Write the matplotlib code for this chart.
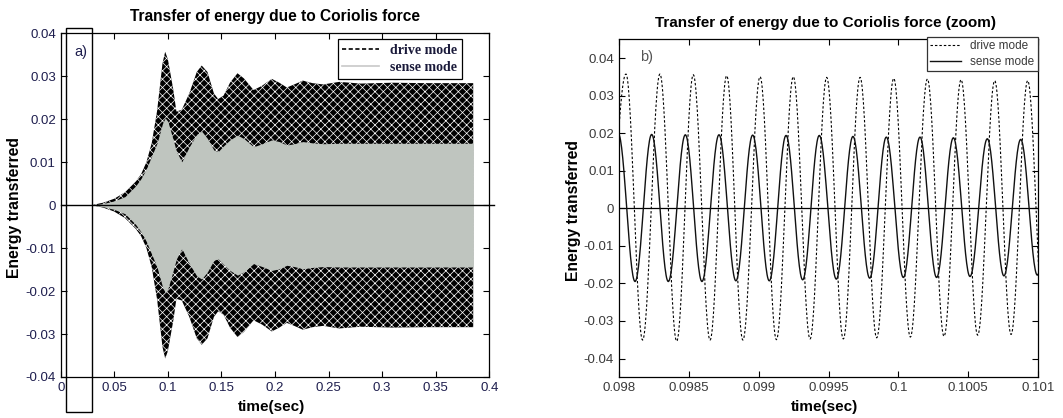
import numpy as np
import matplotlib
matplotlib.use('Agg')
import matplotlib.pyplot as plt
from matplotlib.patches import Rectangle

plt.rcParams['font.family'] = ['Liberation Sans', 'DejaVu Sans']
plt.rcParams['hatch.linewidth'] = 0.5

# --- panel a): envelopes ---
env_t = [0.029, 0.04, 0.05, 0.06, 0.07, 0.075, 0.08, 0.085, 0.09, 0.095, 0.0975, 0.1,
         0.105, 0.108, 0.113, 0.12, 0.127, 0.1316, 0.137, 0.143, 0.147, 0.152, 0.158,
         0.165, 0.171, 0.18, 0.188, 0.197, 0.204, 0.211, 0.218, 0.226, 0.235, 0.245,
         0.26, 0.28, 0.31, 0.34, 0.385]
drive_env = [0.0, 0.0006, 0.0015, 0.003, 0.0055, 0.0072, 0.0100, 0.0145, 0.022, 0.033,
             0.0357, 0.034, 0.027, 0.0218, 0.0222, 0.026, 0.031, 0.0325, 0.031, 0.026,
             0.0247, 0.0255, 0.0285, 0.0307, 0.0295, 0.0268, 0.0278, 0.0294, 0.0285,
             0.0274, 0.0281, 0.029, 0.0284, 0.0281, 0.0287, 0.0283, 0.0285, 0.0284, 0.0284]
sense_env = [0.0, 0.0004, 0.001, 0.002, 0.0045, 0.0062, 0.0085, 0.0115, 0.0145, 0.019,
             0.0203, 0.0195, 0.0152, 0.0125, 0.0101, 0.0136, 0.0165, 0.0172, 0.0155, 0.0128,
             0.0125, 0.0138, 0.0152, 0.0163, 0.0155, 0.0136, 0.0143, 0.0152, 0.0148,
             0.014, 0.0143, 0.0148, 0.0145, 0.0143, 0.0144, 0.0144, 0.0144, 0.0144, 0.0144]

# --- panel b): extrema ---
drive_tk = [0.097881, 0.098050, 0.098169, 0.098293, 0.098413, 0.098532, 0.098652, 0.098771,
            0.098887, 0.099010, 0.099127, 0.099248, 0.099368, 0.099487, 0.099606, 0.099726,
            0.099845, 0.099967, 0.100086, 0.100208, 0.100327, 0.100449, 0.100568, 0.100690,
            0.100807, 0.100926, 0.101045, 0.101165]
drive_yk = [-0.0351, 0.03576, -0.0351, 0.03576, -0.0354, 0.03558, -0.0351, 0.03531,
            -0.0351, 0.03505, -0.0350, 0.03505, -0.0348, 0.03487, -0.0348, 0.03487,
            -0.0345, 0.0346, -0.0343, 0.03443, -0.0341, 0.03425, -0.0338, 0.03399,
            -0.0336, 0.03399, -0.0336, 0.0339]
sense_tk = [0.097995, 0.098115, 0.098234, 0.098353, 0.098475, 0.098594, 0.098716, 0.098837,
            0.098957, 0.099076, 0.099196, 0.099315, 0.099434, 0.099556, 0.099675, 0.099795,
            0.099914, 0.100036, 0.100155, 0.100274, 0.100394, 0.100513, 0.100637, 0.100756,
            0.100876, 0.100995, 0.101116]
sense_yk = [0.01985, -0.0195, 0.01967, -0.0195, 0.01958, -0.0195, 0.01958, -0.01932,
            0.01949, -0.01932, 0.0194, -0.01905, 0.0194, -0.01887, 0.01914, -0.01861,
            0.01896, -0.01843, 0.01896, -0.01843, 0.01878, -0.01817, 0.01852, -0.018,
            0.01834, -0.0178, 0.0183]

xticks_a = [0, 0.05, 0.1, 0.15, 0.2, 0.25, 0.3, 0.35, 0.4]
xlabels_a = ['0', '0.05', '0.1', '0.15', '0.2', '0.25', '0.3', '0.35', '0.4']
xticks_b = [0.098, 0.0985, 0.099, 0.0995, 0.1, 0.1005, 0.101]
xlabels_b = ['0.098', '0.0985', '0.099', '0.0995', '0.1', '0.1005', '0.101']
yticks = [-0.04, -0.03, -0.02, -0.01, 0, 0.01, 0.02, 0.03, 0.04]
ylabels = ['-0.04', '-0.03', '-0.02', '-0.01', '0', '0.01', '0.02', '0.03', '0.04']


def half_waves(tk, yk, n=30):
    # join successive extrema with half cosine arcs
    ts, ys = [], []
    for i in range(len(tk) - 1):
        s = np.linspace(0, 1, n, endpoint=False)
        ts.append(tk[i] + s * (tk[i + 1] - tk[i]))
        ys.append(yk[i] + (yk[i + 1] - yk[i]) * (1 - np.cos(np.pi * s)) / 2)
    return np.concatenate(ts), np.concatenate(ys)


def style_axes(ax, color):
    ax.tick_params(direction='in', top=True, right=True, length=4, width=0.8,
                   labelsize=9.5, labelcolor=color)
    for s in ax.spines.values():
        s.set_linewidth(0.9)


fig = plt.figure(figsize=(10.63, 4.18), dpi=100)

# ---------------- panel a ----------------
ax1 = fig.add_axes([0.0571, 0.0981, 0.4032, 0.8222])
t = np.array(env_t)
d = np.array(drive_env)
s = np.array(sense_env)
ax1.fill_between(t, -d, d, facecolor='black', edgecolor='white', hatch='xxxx', linewidth=0)
ax1.fill_between(t, -s, s, color='#bfc5bf', linewidth=0)
ax1.axhline(0, xmin=0, xmax=1.01, color='black', lw=1.0, clip_on=False)
ax1.plot([], [], color='black', ls=(0, (2.5, 1.5)), lw=1.2, label='drive mode')
ax1.plot([], [], color='#c8c8c8', lw=1.2, label='sense mode')
ax1.set_xlim(0, 0.4)
ax1.set_ylim(-0.04, 0.04)
ax1.set_xticks(xticks_a, xlabels_a)
ax1.set_yticks(yticks, ylabels)
style_axes(ax1, '#1e1e4e')
leg1 = ax1.legend(loc='upper right', bbox_to_anchor=(0.9356, 0.9825), borderaxespad=0,
                  fancybox=False, framealpha=1, edgecolor='black', handlelength=2.6,
                  prop={'family': 'Liberation Serif', 'weight': 'bold', 'size': 10},
                  labelcolor='#1a1a3a', borderpad=0.35, labelspacing=0.25)
leg1.get_frame().set_linewidth(0.9)
ax1.text(0.031, 0.946, 'a)', transform=ax1.transAxes, fontsize=10.5, color='#1e1e4e',
         va='center', ha='left')
fig.add_artist(Rectangle((0.0621, 0.0144), 0.0245, 0.9187, transform=fig.transFigure,
                         fill=False, edgecolor='black', lw=1.0))
fig.text(0.2587, 0.9617, 'Transfer of energy due to Coriolis force', ha='center',
         va='center', fontsize=11.2, fontweight='bold')
fig.text(0.2556, 0.026, 'time(sec)', ha='center', va='center', fontsize=11,
         fontweight='bold')
fig.text(0.0132, 0.5036, 'Energy transferred', ha='center', va='center', fontsize=11.3,
         fontweight='bold', rotation=90)

# ---------------- panel b ----------------
ax2 = fig.add_axes([0.5823, 0.0974, 0.3942, 0.8086])
dt, dy = half_waves(drive_tk, drive_yk)
st, sy = half_waves(sense_tk, sense_yk)
ax2.axhline(0, color='black', lw=0.9)
ax2.plot(dt, dy, color='black', ls=(0, (2.2, 1.8)), lw=0.8, label='drive mode')
ax2.plot(st, sy, color='#111111', lw=1.0, label='sense mode')
ax2.set_xlim(0.098, 0.101)
ax2.set_ylim(-0.045, 0.045)
ax2.set_xticks(xticks_b, xlabels_b)
ax2.set_yticks(yticks, ylabels)
style_axes(ax2, '#3a3a3a')
leg2 = ax2.legend(loc='upper right', bbox_to_anchor=(1.0, 1.008), borderaxespad=0,
                  fancybox=False, framealpha=1, edgecolor='#333333', handlelength=2.6,
                  fontsize=8.5, labelcolor='#3a3a3a', borderpad=0.3, labelspacing=0.3)
leg2.get_frame().set_linewidth(0.9)
ax2.text(0.05, 0.947, 'b)', transform=ax2.transAxes, fontsize=10.5, color='#555555',
         va='center', ha='left')
fig.text(0.777, 0.9457, 'Transfer of energy due to Coriolis force (zoom)', ha='center',
         va='center', fontsize=11, fontweight='bold')
fig.text(0.776, 0.027, 'time(sec)', ha='center', va='center', fontsize=11,
         fontweight='bold')
fig.text(0.5394, 0.4976, 'Energy transferred', ha='center', va='center', fontsize=11.3,
         fontweight='bold', rotation=90)

fig.savefig('out.png', dpi=100)
